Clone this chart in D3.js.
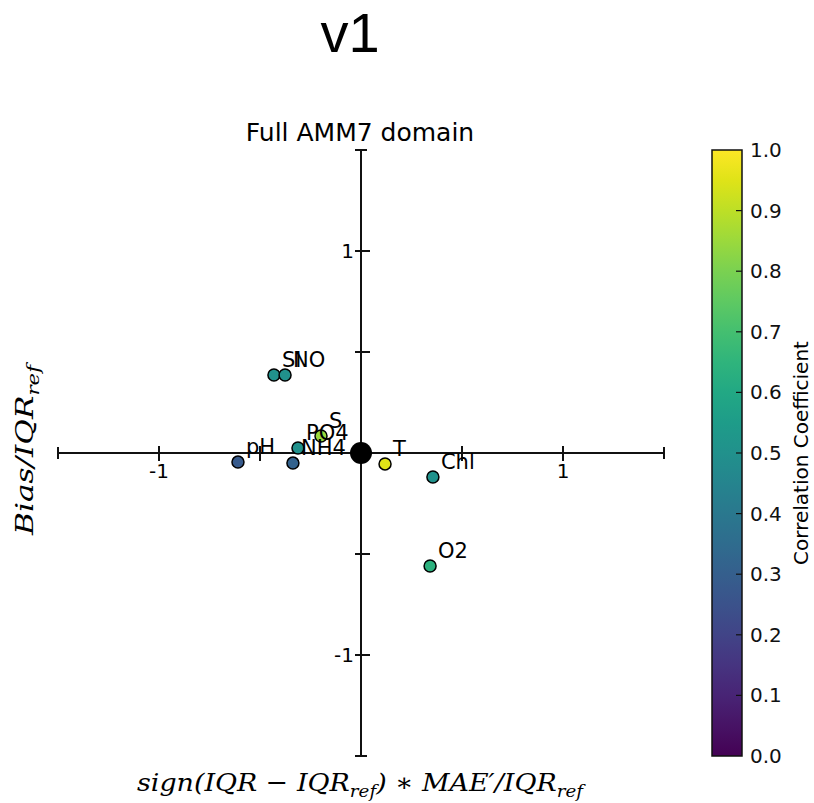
<!DOCTYPE html>
<html>
<head>
<meta charset="utf-8">
<script src="https://cdn.jsdelivr.net/npm/d3@7"></script>
<style>
  body { margin: 0; background: #fff; }
  text { font-family: "DejaVu Sans", sans-serif; }
</style>
</head>
<body>
<div id="container"></div>
<script>
// variables, normalised MAE' (x), normalised bias (y), correlation (colour)
const names = ["SI", "NO", "S", "PO4", "pH", "NH4", "T", "Chl", "O2"];
const maeValues = [-0.431, -0.376, -0.198, -0.312, -0.609, -0.337, 0.119, 0.356, 0.342];
const biasValues = [0.386, 0.386, 0.084, 0.025, -0.045, -0.050, -0.054, -0.119, -0.559];
const corrValues = [0.50, 0.50, 0.85, 0.50, 0.28, 0.31, 0.95, 0.51, 0.64];
const axisTicks = [-1, -0.5, 0.5, 1];
const labelledTicks = [-1, 1];
const cbarTicks = [0, 0.1, 0.2, 0.3, 0.4, 0.5, 0.6, 0.7, 0.8, 0.9, 1.0];

const width = 814, height = 803;
const svg = d3.select('#container').append('svg')
  .attr('width', width)
  .attr('height', height);

const x = d3.scaleLinear().domain([-1.5, 1.5]).range([58, 664]);
const y = d3.scaleLinear().domain([1.5, -1.5]).range([150, 756]);
const color = d3.scaleSequential(d3.interpolateViridis).domain([0, 1]);

// titles
svg.append('text')
  .attr('x', 350).attr('y', 52)
  .attr('text-anchor', 'middle')
  .style('font-family', '"Liberation Sans", Arial, sans-serif')
  .style('font-size', '56px')
  .text('v1');
svg.append('text')
  .attr('x', 360).attr('y', 141)
  .attr('text-anchor', 'middle')
  .style('font-size', '25px')
  .text('Full AMM7 domain');

// axes crossing at origin
const axisG = svg.append('g').attr('stroke', '#111').attr('stroke-width', 2);
axisG.append('line')
  .attr('x1', x(-1.5)).attr('x2', x(1.5))
  .attr('y1', y(0)).attr('y2', y(0));
axisG.append('line')
  .attr('x1', x(0)).attr('x2', x(0))
  .attr('y1', y(1.5)).attr('y2', y(-1.5));
// end ticks
[-1.5, 1.5].forEach(v => {
  axisG.append('line').attr('x1', x(v)).attr('x2', x(v)).attr('y1', y(0) - 6).attr('y2', y(0) + 6);
  axisG.append('line').attr('x1', x(0) - 6).attr('x2', x(0) + 6).attr('y1', y(v)).attr('y2', y(v));
});
axisTicks.forEach(v => {
  axisG.append('line').attr('x1', x(v)).attr('x2', x(v)).attr('y1', y(0) - 7).attr('y2', y(0) + 8);
  axisG.append('line').attr('x1', x(0) - 6).attr('x2', x(0) + 9).attr('y1', y(v)).attr('y2', y(v));
});
labelledTicks.forEach(v => {
  svg.append('text')
    .attr('x', x(v)).attr('y', y(0) + 25)
    .attr('text-anchor', 'middle')
    .style('font-size', '20px')
    .text(v);
  svg.append('text')
    .attr('x', x(0) - 7).attr('y', y(v) + 7)
    .attr('text-anchor', 'end')
    .style('font-size', '20px')
    .text(v);
});

// reference point at origin
svg.append('circle')
  .attr('cx', x(0)).attr('cy', y(0))
  .attr('r', 11).attr('fill', '#000');

// points
const pts = names.map((n, i) => ({ name: n, mx: maeValues[i], by: biasValues[i], r: corrValues[i] }));
const ptG = svg.append('g');
ptG.selectAll('circle').data(pts).enter().append('circle')
  .attr('cx', d => x(d.mx))
  .attr('cy', d => y(d.by))
  .attr('r', 6)
  .attr('fill', d => color(d.r))
  .attr('stroke', '#000')
  .attr('stroke-width', 1.5);
ptG.selectAll('text').data(pts).enter().append('text')
  .attr('x', d => x(d.mx) + 8)
  .attr('y', d => y(d.by) - 8)
  .style('font-size', '21px')
  .text(d => d.name);

// axis labels (math style)
const xl = svg.append('text')
  .attr('x', 137).attr('y', 791)
  .attr('textLength', 446)
  .attr('lengthAdjust', 'spacingAndGlyphs')
  .style('font-family', '"DejaVu Serif", "Liberation Serif", serif')
  .style('font-style', 'italic')
  .style('font-size', '25px');
xl.append('tspan').text('sign(IQR − IQR');
xl.append('tspan').attr('dy', 6).style('font-size', '17px').text('ref');
xl.append('tspan').attr('dy', -6).text(') ∗ MAE′/IQR');
xl.append('tspan').attr('dy', 6).style('font-size', '17px').text('ref');

const yl = svg.append('text')
  .attr('transform', 'translate(33,535) rotate(-90)')
  .attr('textLength', 170)
  .attr('lengthAdjust', 'spacingAndGlyphs')
  .style('font-family', '"DejaVu Serif", "Liberation Serif", serif')
  .style('font-style', 'italic')
  .style('font-size', '25px');
yl.append('tspan').text('Bias/IQR');
yl.append('tspan').attr('dy', 6).style('font-size', '17px').text('ref');

// colorbar
const cbX = 712, cbW = 30;
const cy = d3.scaleLinear().domain([0, 1]).range([756, 150]);
const defs = svg.append('defs');
const grad = defs.append('linearGradient')
  .attr('id', 'viridis')
  .attr('x1', 0).attr('y1', 1).attr('x2', 0).attr('y2', 0);
d3.range(0, 1.0001, 0.05).forEach(t => {
  grad.append('stop').attr('offset', t).attr('stop-color', color(t));
});
svg.append('rect')
  .attr('x', cbX).attr('y', cy(1))
  .attr('width', cbW).attr('height', cy(0) - cy(1))
  .attr('fill', 'url(#viridis)')
  .attr('stroke', '#111').attr('stroke-width', 1.5);
const cbAxis = d3.axisRight(cy).tickValues(cbarTicks).tickFormat(d3.format('.1f')).tickSize(0).tickPadding(8);
const cbG = svg.append('g').attr('transform', 'translate(' + (cbX + cbW) + ',0)').call(cbAxis);
cbG.select('.domain').remove();
cbG.selectAll('text').style('font-size', '20px').style('font-family', '"DejaVu Sans", sans-serif').attr('fill', '#111');
cbarTicks.forEach(t => {
  if (t === 0 || t === 1) return;
  svg.append('line')
    .attr('x1', cbX + cbW - 6).attr('x2', cbX + cbW)
    .attr('y1', cy(t)).attr('y2', cy(t))
    .attr('stroke', '#111').attr('stroke-width', 1.2);
});
svg.append('text')
  .attr('transform', 'translate(808,' + cy(0.5) + ') rotate(-90)')
  .attr('text-anchor', 'middle')
  .style('font-size', '20px')
  .text('Correlation Coefficient');
</script>
</body>
</html>
